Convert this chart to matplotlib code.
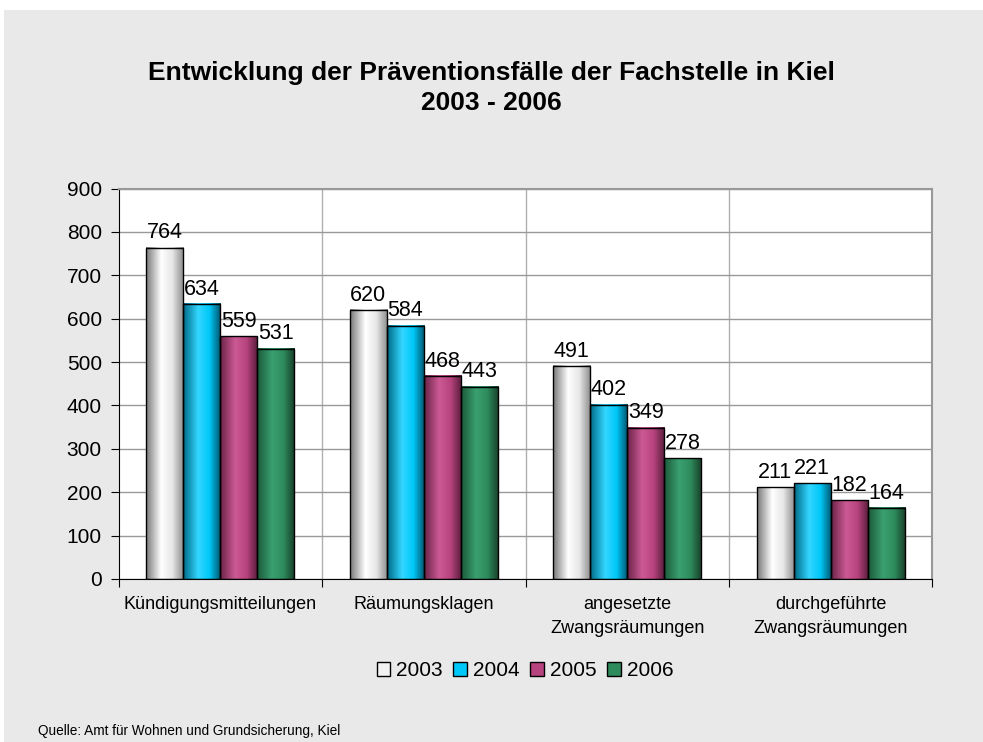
import numpy as np
import matplotlib
matplotlib.use("Agg")
import matplotlib.pyplot as plt
from matplotlib.colors import LinearSegmentedColormap
from matplotlib.patches import Rectangle

plt.rcParams["font.family"] = ["Liberation Sans", "DejaVu Sans"]

categories = ["Kündigungsmitteilungen", "Räumungsklagen",
              "angesetzte\nZwangsräumungen", "durchgeführte\nZwangsräumungen"]
years = ["2003", "2004", "2005", "2006"]
values = {
    "2003": [764, 620, 491, 211],
    "2004": [634, 584, 402, 221],
    "2005": [559, 468, 349, 182],
    "2006": [531, 443, 278, 164],
}
yticks = list(range(0, 1000, 100))

# dark edge, highlight, base, dark edge
shades = {
    "2003": ["#7a7a7a", "#ffffff", "#e6e6e6", "#8c8c8c"],
    "2004": ["#006a88", "#33d6ff", "#00c8f8", "#00556e"],
    "2005": ["#6a2348", "#cc5a95", "#b8447f", "#5a1d3c"],
    "2006": ["#1c5a3a", "#3aa070", "#2e8b5c", "#17402a"],
}
legend_face = {"2003": "#f2f2f2", "2004": "#00c8f8", "2005": "#b8447f", "2006": "#2e8b5c"}

fig = plt.figure(figsize=(9.83, 7.42), dpi=100)
fig.patches.append(Rectangle((4 / 983, 0), 1, 732 / 742, transform=fig.transFigure,
                             facecolor="#e9e9e9", edgecolor="none", zorder=-10))

ax = fig.add_axes([118.5 / 983, 163 / 742, 814 / 983, 390.5 / 742])
ax.set_facecolor("white")

x = np.arange(len(categories))
w = 0.182
grad = np.linspace(0, 1, 64).reshape(1, -1)
for i, yr in enumerate(years):
    cmap = LinearSegmentedColormap.from_list(
        yr, list(zip([0, 0.4, 0.7, 1], shades[yr])))
    pos = x + (i - 1.5) * w
    bars = ax.bar(pos, values[yr], w, facecolor="none", edgecolor="black",
                  linewidth=1, zorder=3)
    for b, v in zip(bars, values[yr]):
        ax.imshow(grad, extent=[b.get_x(), b.get_x() + w, 0, v], aspect="auto",
                  cmap=cmap, zorder=2, interpolation="bilinear")
        ax.text(b.get_x() + w / 2, v + 10, str(v), ha="center", va="bottom",
                fontsize=15.5, zorder=4)

ax.set_xlim(-0.5, 3.5)
ax.set_ylim(0, 900)
ax.set_yticks(yticks)
ax.tick_params(axis="y", labelsize=15, length=6, direction="out", pad=6)
ax.set_xticks(np.arange(-0.5, 4, 1))
ax.set_xticklabels([])
ax.tick_params(axis="x", length=6, direction="out")
ax.set_xticks(x, minor=True)
ax.set_xticklabels(categories, minor=True, fontsize=13, linespacing=1.6, va="top")
ax.tick_params(axis="x", which="minor", length=0, pad=12)

ax.grid(axis="y", color="#999999", linewidth=1, zorder=0)
for sep in [0.5, 1.5, 2.5]:
    ax.axvline(sep, color="#b0b0b0", linewidth=1, zorder=0)
ax.set_axisbelow(True)
for s in ["top", "right"]:
    ax.spines[s].set_color("#999999")
    ax.spines[s].set_linewidth(1.5)
ax.spines["left"].set_color("black")
ax.spines["bottom"].set_color("black")

fig.text(0.5, 1 - 88 / 742, "Entwicklung der Präventionsfälle der Fachstelle in Kiel\n2003 - 2006",
         ha="center", va="center", fontsize=19, fontweight="bold", linespacing=1.35)

handles = [Rectangle((0, 0), 1, 1, facecolor=legend_face[yr], edgecolor="black", linewidth=1)
           for yr in years]
fig.legend(handles, years, loc="center", bbox_to_anchor=(525 / 983, 1 - 671 / 742),
           ncol=4, frameon=False, fontsize=15, handlelength=0.65, handleheight=0.65,
           handletextpad=0.3, columnspacing=0.5)

fig.text(38 / 983, 1 - 731 / 742, "Quelle: Amt für Wohnen und Grundsicherung, Kiel",
         ha="left", va="center", fontsize=9.8)

fig.savefig("out.png", dpi=100, facecolor="white")
